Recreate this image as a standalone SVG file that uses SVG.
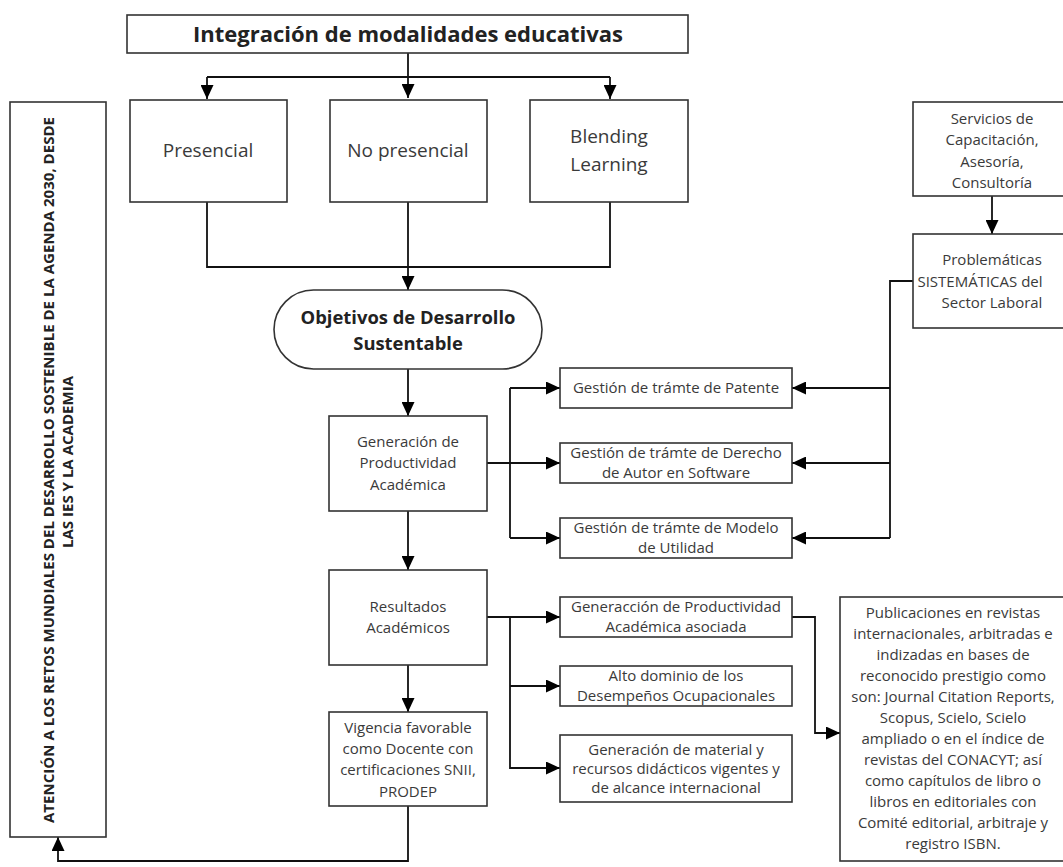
<svg xmlns="http://www.w3.org/2000/svg" width="1063" height="867" viewBox="0 0 1063 867">
<defs>
<marker id="arr" markerUnits="userSpaceOnUse" markerWidth="14" markerHeight="13" refX="14" refY="6.5" orient="auto">
<path d="M0,0 L14,6.5 L0,13 z" fill="#000"/>
</marker>
<style>
.box{fill:#fff;stroke:#333;stroke-width:1.6}
.ln{fill:none;stroke:#111;stroke-width:1.8}
.t{font-family:"Open Sans","Liberation Sans",sans-serif;font-size:15px;fill:#3a3a3a;text-anchor:middle}
.m{font-size:19px}
.b{font-weight:bold;fill:#222}
</style>
</defs>
<rect width="1063" height="867" fill="#fff"/>
<g id="connectors">
<path class="ln" d="M408,53 V98" marker-end="url(#arr)"/>
<path class="ln" d="M207,77 H610"/>
<path class="ln" d="M207,77 V99" marker-end="url(#arr)"/>
<path class="ln" d="M610,77 V99" marker-end="url(#arr)"/>
<path class="ln" d="M207,202 V267 H610 V202"/>
<path class="ln" d="M408,202 V290" marker-end="url(#arr)"/>
<path class="ln" d="M408,369 V416" marker-end="url(#arr)"/>
<path class="ln" d="M487,463 H560" marker-end="url(#arr)"/>
<path class="ln" d="M510,388 V538"/>
<path class="ln" d="M510,388 H560" marker-end="url(#arr)"/>
<path class="ln" d="M510,538 H560" marker-end="url(#arr)"/>
<path class="ln" d="M913,281 H890 V538"/>
<path class="ln" d="M890,388 H792" marker-end="url(#arr)"/>
<path class="ln" d="M890,463 H792" marker-end="url(#arr)"/>
<path class="ln" d="M890,538 H792" marker-end="url(#arr)"/>
<path class="ln" d="M992,196 V234" marker-end="url(#arr)"/>
<path class="ln" d="M408,511 V570" marker-end="url(#arr)"/>
<path class="ln" d="M487,617 H560" marker-end="url(#arr)"/>
<path class="ln" d="M510,617 V768 H560" marker-end="url(#arr)"/>
<path class="ln" d="M510,686 H560" marker-end="url(#arr)"/>
<path class="ln" d="M792,617 H815 V733 H840" marker-end="url(#arr)"/>
<path class="ln" d="M408,665 V712" marker-end="url(#arr)"/>
<path class="ln" d="M408,806 V861 H58 V837" marker-end="url(#arr)"/>
</g>
<g id="n-integracion">
<rect class="box" x="127" y="15" width="561" height="38"/>
<text class="t b" x="408" y="42" style="font-size:22px">Integración de modalidades educativas</text>
</g>
<g id="n-presencial">
<rect class="box" x="130" y="100" width="157" height="102"/>
<text class="t m" x="208" y="157">Presencial</text>
</g>
<g id="n-nopresencial">
<rect class="box" x="330" y="100" width="157" height="102"/>
<text class="t m" x="408" y="157">No presencial</text>
</g>
<g id="n-blending">
<rect class="box" x="530" y="100" width="158" height="102"/>
<text class="t m" x="609" y="143">Blending</text>
<text class="t m" x="609" y="171">Learning</text>
</g>
<g id="n-atencion">
<rect class="box" x="10" y="102" width="96" height="735"/>
<text class="t b" transform="translate(54,470) rotate(-90)" style="font-size:15px" textLength="706" lengthAdjust="spacingAndGlyphs">ATENCIÓN A LOS RETOS MUNDIALES DEL DESARROLLO SOSTENIBLE DE LA AGENDA 2030, DESDE</text>
<text class="t b" transform="translate(73,462) rotate(-90)" style="font-size:15px" textLength="172" lengthAdjust="spacingAndGlyphs">LAS IES Y LA ACADEMIA</text>
</g>
<g id="n-ods">
<rect class="box" x="274" y="290" width="268" height="79" rx="39.5" ry="39.5"/>
<text class="t b" x="408" y="324" style="font-size:18.4px">Objetivos de Desarrollo</text>
<text class="t b" x="408" y="350" style="font-size:18.4px">Sustentable</text>
</g>
<g id="n-generacion">
<rect class="box" x="329" y="416" width="158" height="95"/>
<text class="t" x="408" y="447">Generación de</text>
<text class="t" x="408" y="468">Productividad</text>
<text class="t" x="408" y="490">Académica</text>
</g>
<g id="n-patente">
<rect class="box" x="560" y="368" width="232" height="40"/>
<text class="t" x="676" y="393">Gestión de trámte de Patente</text>
</g>
<g id="n-derecho">
<rect class="box" x="560" y="443" width="232" height="40"/>
<text class="t" x="676" y="458">Gestión de trámte de Derecho</text>
<text class="t" x="676" y="478">de Autor en Software</text>
</g>
<g id="n-modelo">
<rect class="box" x="560" y="518" width="232" height="40"/>
<text class="t" x="676" y="533">Gestión de trámte de Modelo</text>
<text class="t" x="676" y="553">de Utilidad</text>
</g>
<g id="n-servicios">
<rect class="box" x="913" y="102" width="160" height="94"/>
<text class="t" x="992" y="124">Servicios de</text>
<text class="t" x="992" y="145">Capacitación,</text>
<text class="t" x="992" y="167">Asesoría,</text>
<text class="t" x="992" y="188">Consultoría</text>
</g>
<g id="n-problematicas">
<rect class="box" x="913" y="234" width="160" height="94"/>
<text class="t" x="992" y="265">Problemáticas</text>
<text class="t" x="980" y="287">SISTEMÁTICAS del</text>
<text class="t" x="992" y="308">Sector Laboral</text>
</g>
<g id="n-resultados">
<rect class="box" x="329" y="570" width="158" height="95"/>
<text class="t" x="408" y="612">Resultados</text>
<text class="t" x="408" y="633">Académicos</text>
</g>
<g id="n-generaccion">
<rect class="box" x="560" y="597" width="232" height="40"/>
<text class="t" x="676" y="612">Generacción de Productividad</text>
<text class="t" x="676" y="632">Académica asociada</text>
</g>
<g id="n-alto">
<rect class="box" x="560" y="666" width="232" height="40"/>
<text class="t" x="676" y="681">Alto dominio de los</text>
<text class="t" x="676" y="701">Desempeños Ocupacionales</text>
</g>
<g id="n-material">
<rect class="box" x="560" y="735" width="232" height="67"/>
<text class="t" x="676" y="755">Generación de material y</text>
<text class="t" x="676" y="774">recursos didácticos vigentes y</text>
<text class="t" x="676" y="793">de alcance internacional</text>
</g>
<g id="n-vigencia">
<rect class="box" x="329" y="712" width="158" height="94"/>
<text class="t" x="408" y="733">Vigencia favorable</text>
<text class="t" x="408" y="754">como Docente con</text>
<text class="t" x="408" y="775">certificaciones SNII,</text>
<text class="t" x="408" y="797">PRODEP</text>
</g>
<g id="n-publicaciones">
<rect class="box" x="840" y="597" width="230" height="264"/>
<text class="t" x="953" y="618">Publicaciones en revistas</text>
<text class="t" x="953" y="639">internacionales, arbitradas e</text>
<text class="t" x="953" y="660">indizadas en bases de</text>
<text class="t" x="953" y="681">reconocido prestigio como</text>
<text class="t" x="953" y="702">son: Journal Citation Reports,</text>
<text class="t" x="953" y="723">Scopus, Scielo, Scielo</text>
<text class="t" x="953" y="744">ampliado o en el índice de</text>
<text class="t" x="953" y="765">revistas del CONACYT; así</text>
<text class="t" x="953" y="786">como capítulos de libro o</text>
<text class="t" x="953" y="807">libros en editoriales con</text>
<text class="t" x="953" y="828">Comité editorial, arbitraje y</text>
<text class="t" x="953" y="849">registro ISBN.</text>
</g>
</svg>
